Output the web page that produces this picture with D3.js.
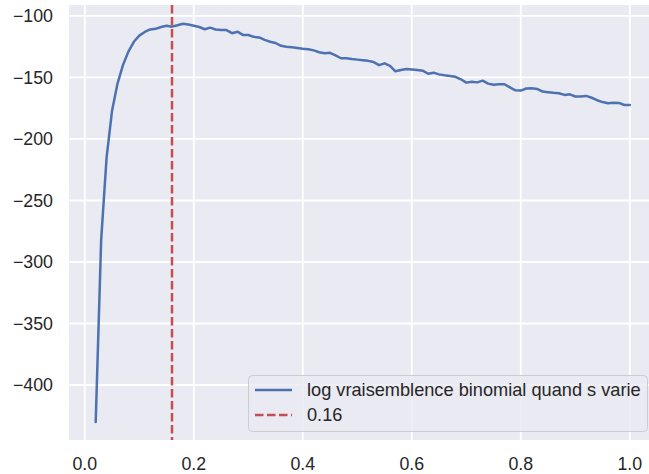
<!DOCTYPE html>
<html>
<head>
<meta charset="utf-8">
<script src="https://d3js.org/d3.v7.min.js"></script>
<style>
  body { margin: 0; background: #fff; }
  text { font-family: "Liberation Sans", Arial, sans-serif; fill: #262626; }
</style>
</head>
<body>
<div id="chart"></div>
<script>
// s values and log-likelihood
var sValues = d3.range(2, 101).map(function(i) { return i / 100; });
var logLik = [
  -430, -282, -215, -177, -155, -140, -129, -121, -116, -113,
  -111, -110.5, -109, -108, -108.7, -107.5, -106.3, -107, -108, -109,
  -110.8, -109.5, -111, -111.4, -111.5, -114, -112.8, -115.4, -115.5, -117,
  -117.5, -119.5, -121, -122, -124.3, -125, -125.5, -126, -126.6, -127,
  -128, -129.5, -130.3, -130, -132, -134.4, -134.4, -135, -135.5, -136,
  -136.5, -137.5, -140, -138.5, -140.5, -145, -144, -143.1, -143.5, -144,
  -144.5, -147, -146.1, -147.5, -148.2, -148.8, -149.5, -151.5, -154.2, -153.5,
  -154, -152.6, -155, -156, -155.5, -155.5, -158, -160.5, -160.7, -159,
  -158.8, -159.3, -161.5, -162, -162.5, -162.8, -164.2, -163.7, -165.5, -165.5,
  -165, -166.5, -168.5, -170, -171, -170.5, -170.7, -172.4, -172.4
];
var bestS = 0.16;
var xTicks = [0, 0.2, 0.4, 0.6, 0.8, 1.0];
var yTicks = [-100, -150, -200, -250, -300, -350, -400];
var legendLabels = ["log vraisemblence binomial quand s varie", "0.16"];

var W = 649, H = 474;
var margin = {top: 5, left: 69, bottom: 34};

var svg = d3.select("#chart").append("svg")
    .attr("width", W)
    .attr("height", H);

var x = d3.scaleLinear().domain([-0.029, 1.049]).range([margin.left, margin.left + 1.078 * 545]);
var y = d3.scaleLinear().domain([-444.7, -91.1]).range([H - margin.bottom, margin.top]);

// axes background
svg.append("rect")
    .attr("x", margin.left).attr("y", margin.top)
    .attr("width", W - margin.left).attr("height", H - margin.bottom - margin.top)
    .attr("fill", "#EAEAF2");

// grid
svg.append("g").selectAll("line").data(xTicks).enter().append("line")
    .attr("x1", function(d) { return x(d); }).attr("x2", function(d) { return x(d); })
    .attr("y1", margin.top).attr("y2", H - margin.bottom)
    .attr("stroke", "#fff").attr("stroke-width", 1.8);
svg.append("g").selectAll("line").data(yTicks).enter().append("line")
    .attr("x1", margin.left).attr("x2", W)
    .attr("y1", function(d) { return y(d); }).attr("y2", function(d) { return y(d); })
    .attr("stroke", "#fff").attr("stroke-width", 1.8);

// tick labels
var fmt = function(d) { return d.toFixed(1); };
svg.append("g").selectAll("text").data(xTicks).enter().append("text")
    .attr("x", function(d) { return x(d); })
    .attr("y", 470)
    .attr("text-anchor", "middle")
    .style("font-size", "17.8px")
    .text(fmt);
svg.append("g").selectAll("text").data(yTicks).enter().append("text")
    .attr("x", 53)
    .attr("y", function(d) { return y(d); })
    .attr("dy", "0.35em")
    .attr("text-anchor", "end")
    .style("font-size", "17.8px")
    .text(function(d) { return "\u2212" + Math.abs(d); });

// clip to plot area
svg.append("clipPath").attr("id", "clip").append("rect")
    .attr("x", margin.left).attr("y", margin.top)
    .attr("width", W - margin.left).attr("height", H - margin.bottom - margin.top);

var plot = svg.append("g").attr("clip-path", "url(#clip)");

var line = d3.line()
    .x(function(d, i) { return x(sValues[i]); })
    .y(function(d) { return y(d); });

plot.append("path")
    .datum(logLik)
    .attr("d", line)
    .attr("fill", "none")
    .attr("stroke", "#4C72B0")
    .attr("stroke-width", 2.5)
    .attr("stroke-linejoin", "round")
    .attr("stroke-linecap", "round");

plot.append("line")
    .attr("x1", x(bestS)).attr("x2", x(bestS))
    .attr("y1", margin.top).attr("y2", H - margin.bottom)
    .attr("stroke", "#C44E52")
    .attr("stroke-width", 2.5)
    .attr("stroke-dasharray", "8.5,3.5");

// legend
var lg = svg.append("g");
lg.append("rect")
    .attr("x", 248.5).attr("y", 375.5)
    .attr("width", 399).attr("height", 56)
    .attr("rx", 4)
    .attr("fill", "#EAEAF2").attr("fill-opacity", 0.8)
    .attr("stroke", "#cccccc").attr("stroke-width", 1);
var legendColors = ["#4C72B0", "#C44E52"];
var legendDash = [null, "8.5,3.5"];
legendLabels.forEach(function(lab, i) {
  var ly = 390 + i * 25;
  lg.append("line")
      .attr("x1", 255).attr("x2", 292)
      .attr("y1", ly).attr("y2", ly)
      .attr("stroke", legendColors[i])
      .attr("stroke-width", 2.5)
      .attr("stroke-dasharray", legendDash[i]);
  lg.append("text")
      .attr("x", 307).attr("y", ly)
      .attr("dy", "0.35em")
      .style("font-size", "18.2px")
      .text(lab);
});
</script>
</body>
</html>
